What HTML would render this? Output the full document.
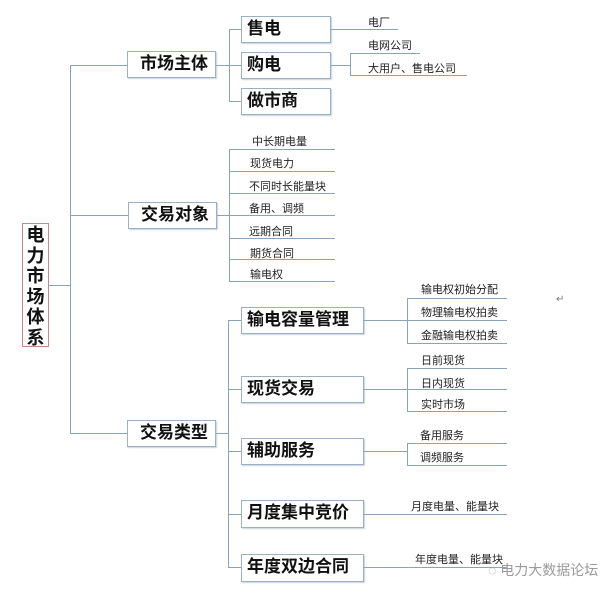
<!DOCTYPE html>
<html><head><meta charset="utf-8"><style>
body{margin:0;width:616px;height:595px;background:#fff;position:relative;overflow:hidden;font-family:"Liberation Sans","Noto Sans CJK SC",sans-serif}
.l{position:absolute;background:#8aa3b8}
.b{position:absolute;box-sizing:border-box;border:1px solid #9bb0c4;box-shadow:1px 1px 1px #c8d3dd;background:#fff;font-weight:bold;font-size:17px;color:#111;line-height:24px;padding-left:5px;white-space:nowrap}
.t{position:absolute;font-size:11px;color:#222;white-space:nowrap;line-height:12px}
</style></head><body>
<div style="position:absolute;left:22px;top:223px;width:27px;height:124px;box-sizing:border-box;border:1px solid #c08a8a;font-weight:bold;font-size:18px;line-height:20.5px;text-align:center;padding-top:1px;color:#111">电<br>力<br>市<br>场<br>体<br>系</div>
<div class="l" style="left:49px;top:285px;width:21px;height:1px"></div>
<div class="l" style="left:70px;top:65px;width:1px;height:369px"></div>
<div class="l" style="left:70px;top:65px;width:57px;height:1px"></div>
<div class="l" style="left:70px;top:215px;width:58px;height:1px"></div>
<div class="l" style="left:70px;top:433px;width:57px;height:1px"></div>
<div class="b" style="left:127px;top:51px;width:89px;height:27px;padding-left:12px">市场主体</div>
<div class="b" style="left:128px;top:202px;width:89px;height:27px;padding-left:12px">交易对象</div>
<div class="b" style="left:127px;top:420px;width:89px;height:27px;padding-left:12px">交易类型</div>

<div class="l" style="left:216px;top:65px;width:25px;height:1px"></div>
<div class="l" style="left:229px;top:29px;width:1px;height:73px"></div>
<div class="l" style="left:229px;top:29px;width:12px;height:1px"></div>
<div class="l" style="left:229px;top:101px;width:12px;height:1px"></div>
<div class="b" style="left:241px;top:16px;width:90px;height:27px">售电</div>
<div class="b" style="left:241px;top:52px;width:90px;height:27px">购电</div>
<div class="b" style="left:241px;top:88px;width:90px;height:27px">做市商</div>
<div class="l" style="left:331px;top:29px;width:67px;height:1px"></div>
<div class="t" style="left:368px;top:17px">电厂</div>
<div class="l" style="left:331px;top:65px;width:19px;height:1px"></div>
<div class="l" style="left:350px;top:53px;width:1px;height:23px"></div>
<div class="l" style="left:350px;top:53px;width:70px;height:1px"></div>
<div class="l" style="left:350px;top:75px;width:117px;height:1px"></div>
<div class="t" style="left:368px;top:40px">电网公司</div>
<div class="t" style="left:368px;top:63px">大用户、售电公司</div>

<div class="l" style="left:217px;top:215px;width:12px;height:1px"></div>
<div class="l" style="left:229px;top:149px;width:1px;height:133px"></div>
<div class="l" style="left:229px;top:149px;width:106px;height:1px"></div>
<div class="l" style="left:229px;top:171px;width:106px;height:1px"></div>
<div class="l" style="left:229px;top:193px;width:106px;height:1px"></div>
<div class="l" style="left:229px;top:215px;width:106px;height:1px"></div>
<div class="l" style="left:229px;top:238px;width:106px;height:1px"></div>
<div class="l" style="left:229px;top:259px;width:106px;height:1px"></div>
<div class="l" style="left:229px;top:281px;width:106px;height:1px"></div>
<div class="t" style="left:252px;top:136px">中长期电量</div>
<div class="t" style="left:250px;top:158px">现货电力</div>
<div class="t" style="left:249px;top:181px">不同时长能量块</div>
<div class="t" style="left:249px;top:203px">备用、调频</div>
<div class="t" style="left:249px;top:226px">远期合同</div>
<div class="t" style="left:250px;top:248px">期货合同</div>
<div class="t" style="left:250px;top:269px">输电权</div>

<div class="l" style="left:216px;top:433px;width:12px;height:1px"></div>
<div class="l" style="left:228px;top:320px;width:1px;height:247px"></div>
<div class="l" style="left:228px;top:320px;width:13px;height:1px"></div>
<div class="l" style="left:228px;top:389px;width:13px;height:1px"></div>
<div class="l" style="left:228px;top:451px;width:13px;height:1px"></div>
<div class="l" style="left:228px;top:514px;width:13px;height:1px"></div>
<div class="l" style="left:228px;top:567px;width:13px;height:1px"></div>
<div class="b" style="left:241px;top:307px;width:123px;height:27px">输电容量管理</div>
<div class="b" style="left:241px;top:376px;width:123px;height:27px">现货交易</div>
<div class="b" style="left:241px;top:438px;width:123px;height:27px">辅助服务</div>
<div class="b" style="left:241px;top:500px;width:123px;height:28px">月度集中竞价</div>
<div class="b" style="left:241px;top:554px;width:123px;height:28px">年度双边合同</div>

<div class="l" style="left:364px;top:320px;width:43px;height:1px"></div>
<div class="l" style="left:407px;top:298px;width:1px;height:46px"></div>
<div class="l" style="left:407px;top:298px;width:100px;height:1px"></div>
<div class="l" style="left:407px;top:320px;width:100px;height:1px"></div>
<div class="l" style="left:407px;top:343px;width:100px;height:1px"></div>
<div class="t" style="left:421px;top:284px">输电权初始分配</div>
<div class="t" style="left:421px;top:307px">物理输电权拍卖</div>
<div class="t" style="left:421px;top:330px">金融输电权拍卖</div>
<div style="position:absolute;left:556px;top:294px;font-size:10px;color:#777">↵</div>

<div class="l" style="left:364px;top:389px;width:43px;height:1px"></div>
<div class="l" style="left:407px;top:368px;width:1px;height:44px"></div>
<div class="l" style="left:407px;top:368px;width:100px;height:1px"></div>
<div class="l" style="left:407px;top:389px;width:100px;height:1px"></div>
<div class="l" style="left:407px;top:411px;width:100px;height:1px"></div>
<div class="t" style="left:421px;top:355px">日前现货</div>
<div class="t" style="left:421px;top:378px">日内现货</div>
<div class="t" style="left:421px;top:399px">实时市场</div>

<div class="l" style="left:364px;top:451px;width:43px;height:1px"></div>
<div class="l" style="left:407px;top:443px;width:1px;height:23px"></div>
<div class="l" style="left:407px;top:443px;width:100px;height:1px"></div>
<div class="l" style="left:407px;top:465px;width:100px;height:1px"></div>
<div class="t" style="left:420px;top:430px">备用服务</div>
<div class="t" style="left:420px;top:452px">调频服务</div>

<div class="l" style="left:364px;top:514px;width:143px;height:1px"></div>
<div class="t" style="left:411px;top:501px">月度电量、能量块</div>
<div class="l" style="left:364px;top:567px;width:143px;height:1px"></div>
<div class="t" style="left:415px;top:554px">年度电量、能量块</div>
<div style="position:absolute;left:488px;top:560px;font-size:14px;color:#9a9a9a;white-space:nowrap">◌ 电力大数据论坛</div>
</body></html>
